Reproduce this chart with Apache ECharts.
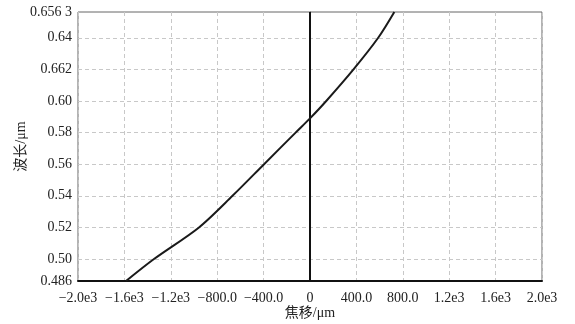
<!DOCTYPE html>
<html><head><meta charset="utf-8">
<script src="https://cdn.jsdelivr.net/npm/echarts@6/dist/echarts.min.js"></script>
<style>html,body{margin:0;padding:0;background:#fff}#c{width:575px;height:324px}</style>
</head><body><div id="c"></div>
<script>
const wavelengths = [0.4861, 0.50, 0.52, 0.54, 0.56, 0.58, 0.589, 0.60, 0.62, 0.64, 0.6563];
const focalShift = [-1586, -1345, -957, -668, -396, -124, 0, 140, 375, 588, 727];
const yTickValues = [0.4861, 0.50, 0.52, 0.54, 0.56, 0.58, 0.60, 0.62, 0.64, 0.6563];
const yTickLabels = ["0.486", "0.50", "0.52", "0.54", "0.56", "0.58", "0.60", "0.662", "0.64", "0.656 3"];
const yGridValues = [0.50, 0.52, 0.54, 0.56, 0.58, 0.60, 0.62, 0.64];
const xTickLabels = ["\u22122.0e3", "\u22121.6e3", "\u22121.2e3", "\u2212800.0", "\u2212400.0", "0", "400.0", "800.0", "1.2e3", "1.6e3", "2.0e3"];

const FONT = '"Liberation Serif", "Noto Sans CJK SC", serif';
const chart = echarts.init(document.getElementById('c'), null, {renderer: 'canvas'});
const linePts = focalShift.map((x, i) => [x, wavelengths[i]]);

chart.setOption({
  animation: false,
  backgroundColor: '#fff',
  grid: {left: 78, right: 33, top: 12, bottom: 43, show: true, borderColor: '#666', borderWidth: 1,
    containLabel: false, outerBoundsMode: 'none'},
  xAxis: {
    type: 'value', min: -2000, max: 2000, interval: 400,
    name: '焦移/μm', nameLocation: 'middle', nameGap: 25, nameMoveOverlap: false,
    nameTextStyle: {fontFamily: FONT, fontSize: 14, color: '#222'},
    axisLine: {show: true, lineStyle: {color: '#111', width: 2}},
    axisTick: {show: false},
    axisLabel: {fontFamily: FONT, fontSize: 14, color: '#222', margin: 10,
      formatter: v => xTickLabels[Math.round((v + 2000) / 400)]},
    splitLine: {show: true, lineStyle: {color: '#c8c8c8', type: [4, 3], width: 1}}
  },
  yAxis: {
    type: 'value', min: 0.4861, max: 0.6563,
    name: '波长/μm', nameLocation: 'middle', nameGap: 50, nameRotate: 90, nameMoveOverlap: false,
    nameTextStyle: {fontFamily: FONT, fontSize: 14, color: '#222'},
    axisLine: {show: true, lineStyle: {color: '#666', width: 1}},
    axisTick: {show: false},
    axisLabel: {fontFamily: FONT, fontSize: 14, color: '#222', margin: 6,
      customValues: yTickValues, showMinLabel: true, showMaxLabel: true,
      formatter: v => {
        const i = yTickValues.findIndex(t => Math.abs(t - v) < 1e-6);
        return i >= 0 ? yTickLabels[i] : '';
      }},
    splitLine: {show: false}
  },
  series: [{
    type: 'line', data: linePts, showSymbol: false, smooth: 0.3,
    lineStyle: {color: '#1a1a1a', width: 2}, z: 5,
    markLine: {
      silent: true, symbol: 'none', label: {show: false},
      data: yGridValues.map(v => ({yAxis: v, lineStyle: {color: '#c8c8c8', type: [4, 3], width: 1}}))
        .concat([{xAxis: 0, lineStyle: {color: '#111', type: 'solid', width: 2}}])
    }
  }]
});
</script></body></html>
